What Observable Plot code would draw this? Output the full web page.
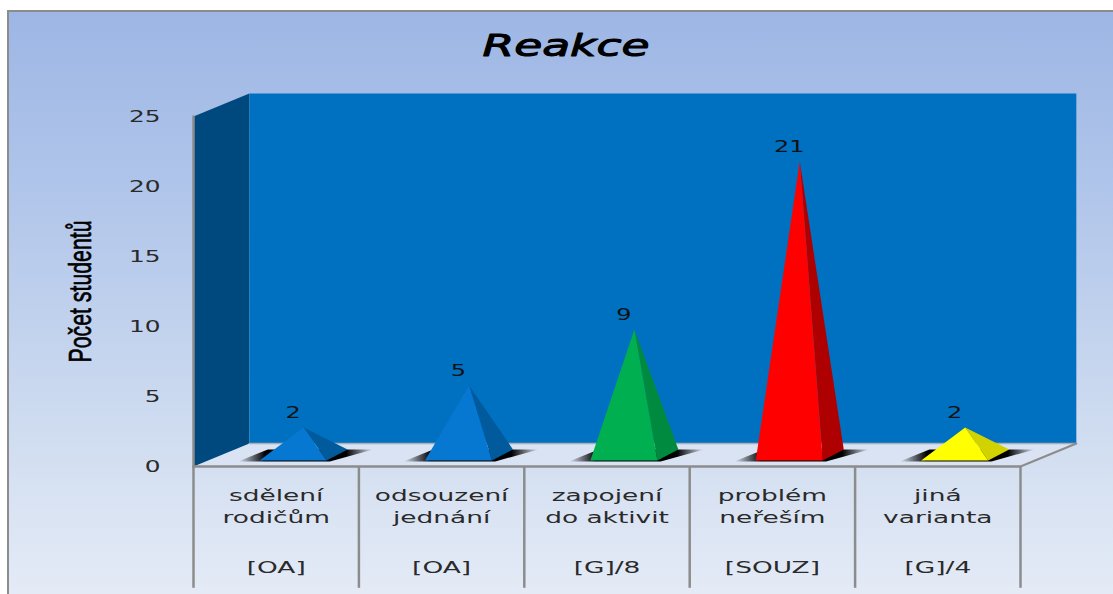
<!DOCTYPE html>
<html>
<head>
<meta charset="utf-8">
<script src="https://cdn.jsdelivr.net/npm/d3@7"></script>
<script src="https://cdn.jsdelivr.net/npm/@observablehq/plot@0.6"></script>
<style>
html,body{margin:0;padding:0;background:#fff;overflow:hidden;width:1113px;height:594px}
#frame{position:absolute;left:7px;top:10px;width:1120px;height:600px;border:2.5px solid #8c8c8c;
background:linear-gradient(#9db6e4 0%,#b0c5ea 30%,#d3dff1 75%,#e6ecf7 100%);box-sizing:border-box}
#chart{position:absolute;left:0;top:0}
svg{background:transparent!important}
</style>
</head>
<body>
<div id="frame"></div>
<div id="chart"></div>
<script>
const title = "Reakce";
const yTitle = "Počet studentů";
const labelLine1 = ["sdělení", "odsouzení", "zapojení", "problém", "jiná"];
const labelLine2 = ["rodičům", "jednání", "do aktivit", "neřeším", "varianta"];
const labelTag = ["[OA]", "[OA]", "[G]/8", "[SOUZ]", "[G]/4"];
const values = [2, 5, 9, 21, 2];
const frontColors = ["#0678d2", "#0678d2", "#00b050", "#ff0000", "#ffff00"];
const sideColors = ["#005a9c", "#005a9c", "#008a40", "#ae0000", "#d2d200"];
const yTicks = [0, 5, 10, 15, 20, 25];

// 3D projection constants, in data units (x: categories, y: students)
const wallDx = 0.3375, wallDy = 1.64;   // back wall offset
const baseY = 0.43;                     // front edge of a pyramid base
const halfW = 0.2025, offX = 0.102;     // half width, shift from category centre
const depthX = 0.127, depthY = 0.79;    // depth of a pyramid base

const poly = (pts, fill, extra = {}) =>
  Plot.line(pts.map(([x, y]) => ({x, y})).concat([{x: pts[0][0], y: pts[0][1]}]),
    {x: "x", y: "y", fill, stroke: "none", curve: "linear", ...extra});
const seg = (pts, stroke, strokeWidth) =>
  Plot.line(pts.map(([x, y]) => ({x, y})), {x: "x", y: "y", stroke, strokeWidth, curve: "linear"});

const defs = () => {
  const d = d3.create("svg:defs");
  const g = d.append("linearGradient").attr("id", "shadow");
  [[0, 0], [0.2, 1], [0.8, 1], [1, 0]].forEach(([o, a]) =>
    g.append("stop").attr("offset", o).attr("stop-color", "#000").attr("stop-opacity", a));
  return d.node();
};

const marks = [defs];
// floor and walls
marks.push(poly([[0, 0], [5, 0], [5 + wallDx, wallDy], [wallDx, wallDy]], "#d9e3f3"));
marks.push(poly([[0, 0], [wallDx, wallDy], [wallDx, 25 + wallDy], [0, 25]], "#00497f"));
marks.push(poly([[wallDx, wallDy], [5 + wallDx, wallDy], [5 + wallDx, 25 + wallDy], [wallDx, 25 + wallDy]], "#0070c0"));
// floor edges
marks.push(seg([[wallDx, wallDy], [5 + wallDx, wallDy]], "#a8adb5", 1.5));
marks.push(seg([[5, 0], [5 + wallDx, wallDy]], "#8c8c8c", 2));
// axis and table lines
marks.push(seg([[0, 0], [0, 25]], "#8c8c8c", 2.5));
marks.push(seg([[0, 0], [5, 0]], "#8c8c8c", 2.5));
marks.push(Plot.ruleX(d3.range(6), {x: d => d, y1: 0, y2: -8.7, stroke: "#8c8c8c", strokeWidth: 2.5}));

values.forEach((v, i) => {
  const c = i + 0.5 + offX;
  const l = c - halfW, r = c + halfW;
  const apexX = c + depthX / 2, apexY = v + depthY;
  // shadow on the floor
  marks.push(poly([[l - 0.13, baseY - 0.07], [r + 0.02, baseY - 0.07], [r + depthX + 0.155, baseY + depthY], [l + 0.05, baseY + depthY]], "url(#shadow)"));
  // side face, front face
  marks.push(poly([[r, baseY], [r + depthX, baseY + depthY], [apexX, apexY]], sideColors[i]));
  marks.push(poly([[l, baseY], [r, baseY], [apexX, apexY]], frontColors[i]));
});

const idx = values.map((_, i) => i);
const font = "DejaVu Sans";
// value labels
marks.push(Plot.text(idx, {x: i => i + 0.5 + offX, y: i => values[i] + depthY, text: i => String(values[i]),
  dy: -14, fontSize: 15, fontFamily: font, fill: "#111"}));
// category labels
[[labelLine1, 29], [labelLine2, 51], [labelTag, 101]].forEach(([arr, dy]) =>
  marks.push(Plot.text(idx, {x: i => i + 0.5, y: () => 0, text: i => arr[i], dy, fontSize: 16.5, fontFamily: font, fill: "#2a2a2a"})));
// axis
marks.push(Plot.axisY(yTicks, {anchor: "left", tickSize: 0, tickPadding: 33, label: null, dy: 1, fontSize: 15.5, fontFamily: font, fill: "#2a2a2a", stroke: "none"}));
// y title
marks.push(Plot.text([yTitle], {x: () => 0, y: () => 12.5, text: d => d, dx: -113, rotate: -90, fontSize: 21, fontFamily: "Liberation Sans", fill: "#000", stroke: "#000", strokeWidth: 0.45}));
// chart title
marks.push(Plot.text([title], {x: () => 2.5, y: () => 25, text: d => d, dx: -41, dy: -70, fontSize: 30, fontFamily: font, fontStyle: "italic", fill: "#000", stroke: "#000", strokeWidth: 1}));

const chart = Plot.plot({
  width: 1113, height: 594,
  marginLeft: 193, marginRight: 93, marginTop: 116, marginBottom: 128,
  x: {domain: [0, 5], axis: null},
  y: {domain: [0, 25], axis: null},
  style: {background: "transparent", overflow: "visible"},
  marks
});
document.getElementById("chart").appendChild(chart);

// the reference is stretched horizontally: widen the text the same way
d3.select(chart).selectAll("text").each(function () {
  const t = d3.select(this);
  const s = this.textContent;
  if (s === yTitle) {
    t.attr("transform", t.attr("transform") + " scale(1,1.5)");
    t.attr("textLength", 142).attr("lengthAdjust", "spacingAndGlyphs");
    return;
  }
  const w = this.getComputedTextLength();
  const k = s === title ? 167 / w : 1.6;
  t.attr("textLength", w * k).attr("lengthAdjust", "spacingAndGlyphs");
});
</script>
</body>
</html>
